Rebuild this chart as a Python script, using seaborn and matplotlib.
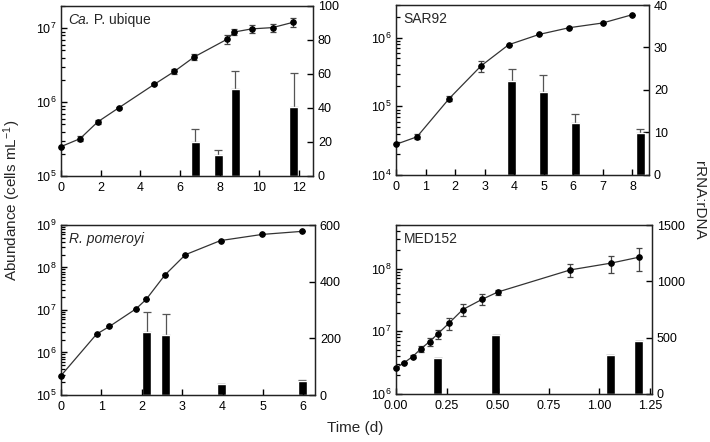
import numpy as np
import matplotlib
matplotlib.use("Agg")
import matplotlib.pyplot as plt
import matplotlib.ticker as mticker
import seaborn as sns

# --- Ca. P. ubique ---
ubi_t = [0, 0.96, 1.85, 2.92, 4.7, 5.71, 6.72, 8.37, 8.74, 9.61, 10.66, 11.68]
ubi_cells = [2.5e5, 3.2e5, 5.4e5, 8.4e5, 1.74e6, 2.6e6, 4.1e6, 7.1e6, 8.9e6, 9.8e6, 1.02e7, 1.2e7]
ubi_err = [0, 2.5e4, 4e4, 3e4, 6e4, 2e5, 4e5, 9e5, 7.5e5, 1.2e6, 1.2e6, 1.7e6]
ubi_bar_t = [6.77, 7.93, 8.79, 11.72]
ubi_ratio = [20.2, 12.2, 51.4, 40.8]
ubi_ratio_err = [7.4, 3.1, 10.4, 19.8]

# --- SAR92 ---
sar_t = [0, 0.71, 1.80, 2.88, 3.81, 4.85, 5.86, 6.99, 8.0]
sar_cells = [2.8e4, 3.6e4, 1.3e5, 3.9e5, 7.9e5, 1.12e6, 1.4e6, 1.64e6, 2.17e6]
sar_err = [0, 3e3, 1.2e4, 7e4, 0, 0, 0, 0, 0]
sar_bar_t = [3.92, 4.99, 6.06, 8.26]
sar_ratio = [22.2, 19.6, 12.3, 9.8]
sar_ratio_err = [2.7, 3.9, 2.0, 1.0]

# --- R. pomeroyi ---
pom_t = [0, 0.88, 1.20, 1.86, 2.11, 2.57, 3.08, 3.95, 4.98, 5.98]
pom_cells = [2.85e5, 2.7e6, 4.1e6, 1.07e7, 1.78e7, 6.6e7, 2.0e8, 4.3e8, 6.0e8, 7.1e8]
pom_err = [0, 0, 0, 0, 0, 0, 0, 0, 0, 0]
pom_bar_t = [2.12, 2.59, 3.97, 5.98]
pom_ratio = [221, 212, 38, 49]
pom_ratio_err = [73, 73, 0, 4]

# --- MED152 ---
med_t = [0, 0.041, 0.082, 0.123, 0.165, 0.205, 0.259, 0.328, 0.424, 0.501, 0.857, 1.056, 1.194]
med_cells = [2.59e6, 3.18e6, 3.96e6, 5.3e6, 6.86e6, 9.1e6, 1.34e7, 2.23e7, 3.26e7, 4.26e7, 9.6e7, 1.23e8, 1.53e8]
med_err = [1e5, 1e5, 2e5, 6e5, 1e6, 1.5e6, 3e6, 5e6, 6.5e6, 4e6, 2.2e7, 3.8e7, 6e7]
med_bar_t = [0.205, 0.491, 1.053, 1.194]
med_ratio = [319, 525, 348, 472]
med_ratio_err = [0, 0, 0, 0]

sns.set_style("ticks")
plt.rcParams["font.family"] = ["Liberation Sans", "DejaVu Sans"]
plt.rcParams["mathtext.default"] = "regular"
plt.rcParams.update({
    "xtick.direction": "in", "ytick.direction": "in",
    "xtick.major.size": 4.5, "ytick.major.size": 4.5,
    "xtick.major.width": 1.0, "ytick.major.width": 1.0,
    "ytick.minor.size": 3, "ytick.minor.width": 0.9,
    "xtick.color": "black", "ytick.color": "black",
    "xtick.labelsize": 9, "ytick.labelsize": 9,
})

W, H = 710, 442
fig = plt.figure(figsize=(W / 100, H / 100), dpi=100)


def px_axes(l, t, r, b):
    return fig.add_axes([l / W, 1 - b / H, (r - l) / W, (b - t) / H])


def panel(box, t, cells, err, bt, ratio, rerr, xlim, xticks, ylim, rmax, rstep,
          bar_w, title, title_italic_all=False, xfmt=None):
    ax = px_axes(*box)
    ax2 = ax.twinx()
    # bars on the right axis, upper error only
    ax2.bar(bt, ratio, width=bar_w, color="black", zorder=2)
    ax2.errorbar(bt, ratio, yerr=[np.zeros(len(rerr)), rerr], fmt="none",
                 ecolor="#555555", elinewidth=0.9, capsize=3, capthick=0.9, zorder=1)
    ax2.set_ylim(0, rmax)
    ax2.set_yticks(np.arange(0, rmax + 1, rstep))
    ax2.yaxis.set_minor_locator(mticker.NullLocator())

    # growth curve on the left (log) axis
    ax.set_zorder(ax2.get_zorder() + 1)
    ax.patch.set_visible(False)
    ax.errorbar(t, cells, yerr=err, fmt="none", ecolor="#444444",
                elinewidth=0.9, capsize=2.5, capthick=0.9, zorder=2)
    sns.lineplot(x=t, y=cells, ax=ax, color="#333333", linewidth=0.9,
                 marker="o", markersize=4, markerfacecolor="black",
                 markeredgecolor="black", estimator=None, sort=False,
                 clip_on=False, zorder=3)
    ax.set_yscale("log")
    ax.set_ylim(*ylim)
    ax.set_xlim(*xlim)
    ax.set_xticks(xticks)
    ax.xaxis.set_minor_locator(mticker.NullLocator())
    if xfmt:
        ax.xaxis.set_major_formatter(mticker.FormatStrFormatter(xfmt))
    lo, hi = int(np.floor(np.log10(ylim[0]))), int(np.ceil(np.log10(ylim[1])))
    minor = [m * 10.0 ** d for d in range(lo, hi) for m in range(2, 10)]
    ax.yaxis.set_minor_locator(mticker.FixedLocator(minor))
    ax.yaxis.set_minor_formatter(mticker.NullFormatter())
    ax.tick_params(axis="x", which="major", pad=4)
    ax.set_xlabel("")
    ax.set_ylabel("")
    for a in (ax, ax2):
        for s in a.spines.values():
            s.set_linewidth(0.9)
            s.set_color("#222222")
            s.set_visible(True)
    if isinstance(title, tuple):
        ax.text(0.03, 0.96, title[0], transform=ax.transAxes, fontsize=10,
                style="italic", ha="left", va="top")
        ax.annotate(title[1], xy=(1, 0), xycoords=ax.texts[-1], fontsize=10,
                    ha="left", va="bottom")
    else:
        ax.text(0.03, 0.96, title, transform=ax.transAxes, fontsize=10,
                style="italic" if title_italic_all else "normal", ha="left", va="top")
    return ax, ax2


panel((61, 6, 313, 176), ubi_t, ubi_cells, ubi_err, ubi_bar_t, ubi_ratio, ubi_ratio_err,
      (0, 12.7), np.arange(0, 13, 2), (1e5, 2e7), 100, 20, 0.45, ("Ca.", " P. ubique"))
panel((396, 5, 649, 175), sar_t, sar_cells, sar_err, sar_bar_t, sar_ratio, sar_ratio_err,
      (0, 8.56), np.arange(0, 9, 1), (1e4, 3e6), 40, 10, 0.30, "SAR92")
panel((61, 225, 315, 395), pom_t, pom_cells, pom_err, pom_bar_t, pom_ratio, pom_ratio_err,
      (0, 6.29), np.arange(0, 7, 1), (1e5, 1e9), 600, 200, 0.22, "R. pomeroyi",
      title_italic_all=True)
panel((396, 225, 652, 394), med_t, med_cells, med_err, med_bar_t, med_ratio, med_ratio_err,
      (0, 1.258), [0, 0.25, 0.5, 0.75, 1.0, 1.25], (1e6, 5e8), 1500, 500, 0.044, "MED152",
      xfmt="%.2f")

fig.text(12 / W, 1 - 200 / H, "Abundance (cells mL$^{-1}$)", rotation=90,
         ha="center", va="center", fontsize=11)
fig.text(699 / W, 1 - 200 / H, "rRNA:rDNA", rotation=270,
         ha="center", va="center", fontsize=11)
fig.text(355 / W, 1 - 428 / H, "Time (d)", ha="center", va="center", fontsize=11)

fig.savefig("out.png", dpi=100)
